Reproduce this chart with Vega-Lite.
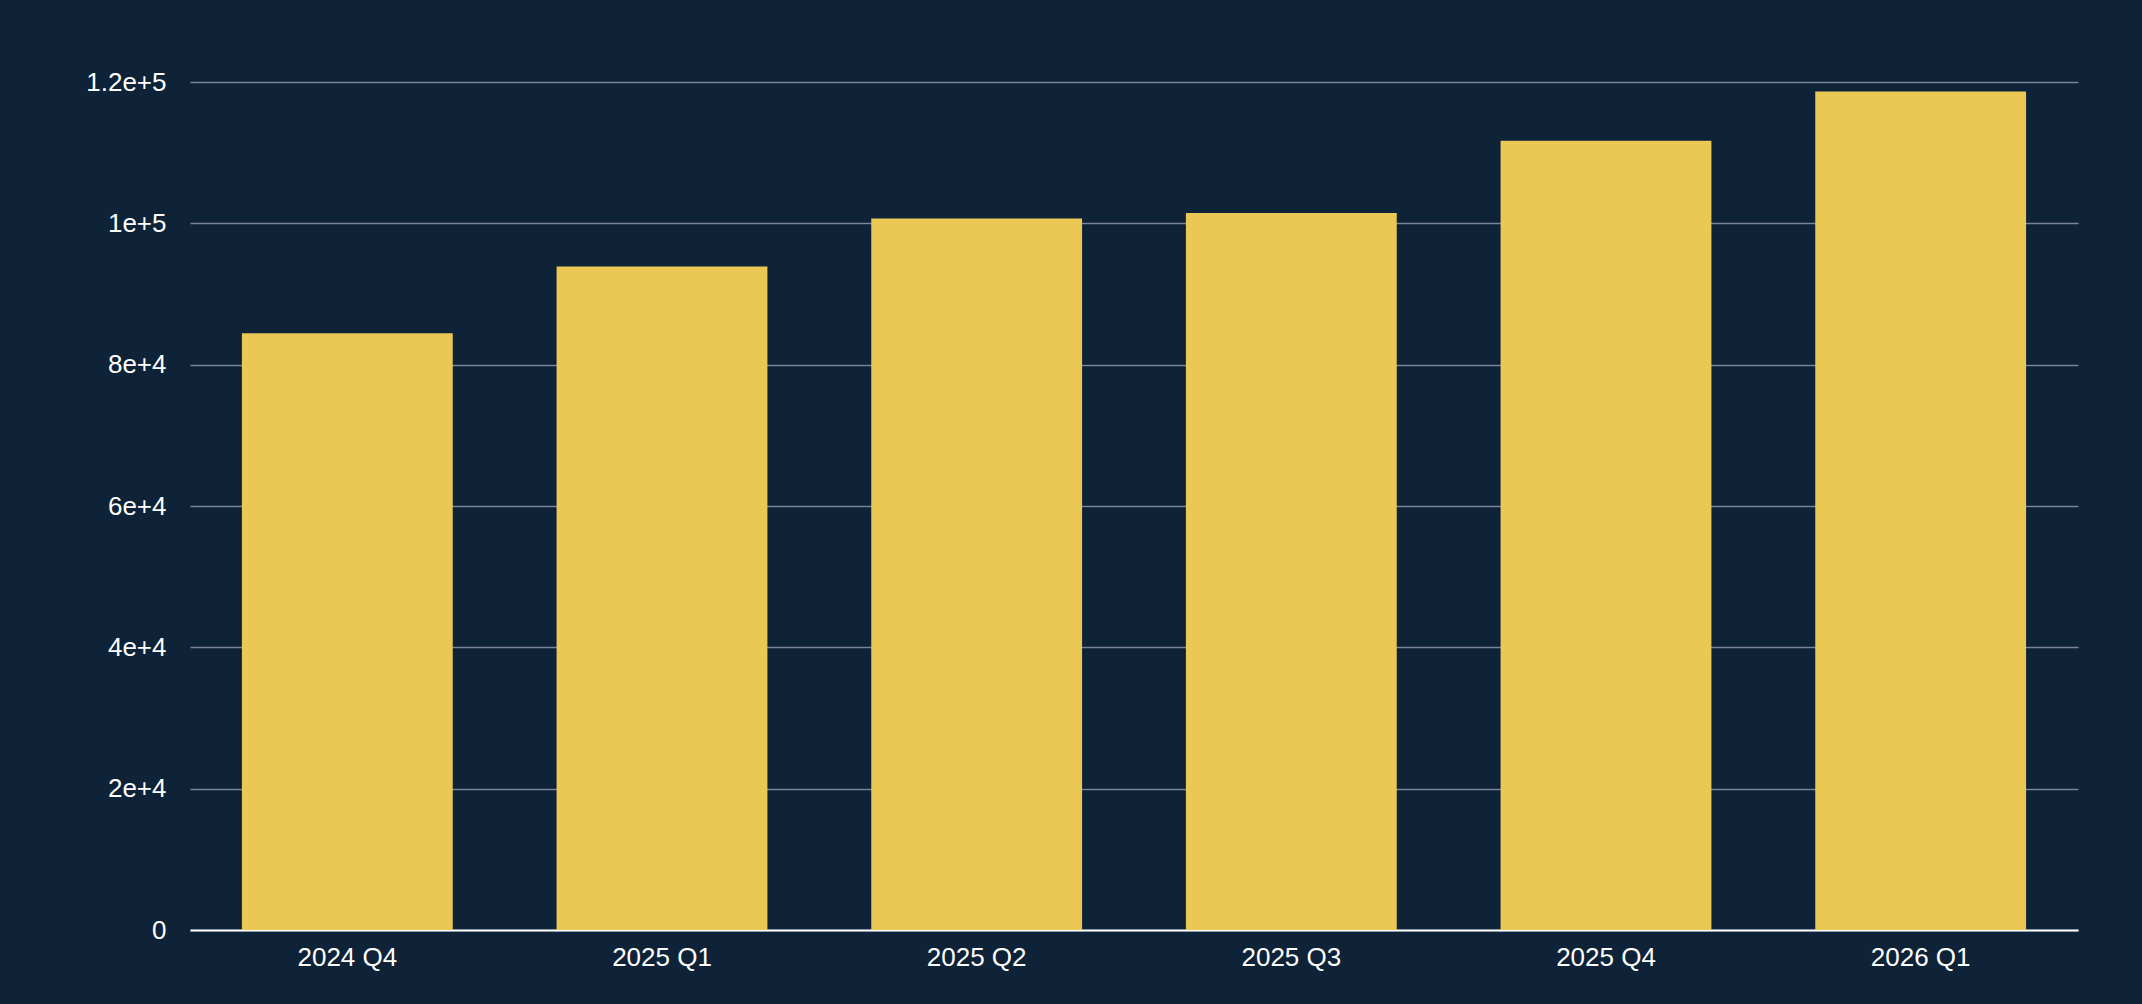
{
  "$schema": "https://vega.github.io/schema/vega-lite/v6.json",
  "width": 1888,
  "height": 848,
  "autosize": "none",
  "padding": {"left": 190, "top": 82, "right": 64, "bottom": 74},
  "background": "#0e2238",
  "data": {
    "values": [
      {"quarter": "2024 Q4", "value": 84450},
      {"quarter": "2025 Q1", "value": 93900},
      {"quarter": "2025 Q2", "value": 100700},
      {"quarter": "2025 Q3", "value": 101450},
      {"quarter": "2025 Q4", "value": 111700},
      {"quarter": "2026 Q1", "value": 118650}
    ]
  },
  "config": {
    "view": {"stroke": null},
    "font": "Liberation Sans"
  },
  "mark": {"type": "bar", "color": "#ebc853"},
  "encoding": {
    "x": {
      "field": "quarter",
      "type": "ordinal",
      "sort": null,
      "scale": {"paddingInner": 0.33, "paddingOuter": 0.165},
      "axis": {
        "title": null,
        "labelAngle": 0,
        "labelColor": "white",
        "labelFontSize": 26,
        "labelPadding": 14,
        "ticks": false,
        "domainColor": "white",
        "domainWidth": 2
      }
    },
    "y": {
      "field": "value",
      "type": "quantitative",
      "scale": {"domain": [0, 120000]},
      "axis": {
        "title": null,
        "values": [0, 20000, 40000, 60000, 80000, 100000, 120000],
        "format": ",",
        "labelColor": "white",
        "labelFontSize": 26,
        "labelPadding": 24,
        "ticks": false,
        "domain": false,
        "gridColor": "#7a8594",
        "gridWidth": 1.5
      }
    }
  }
}
